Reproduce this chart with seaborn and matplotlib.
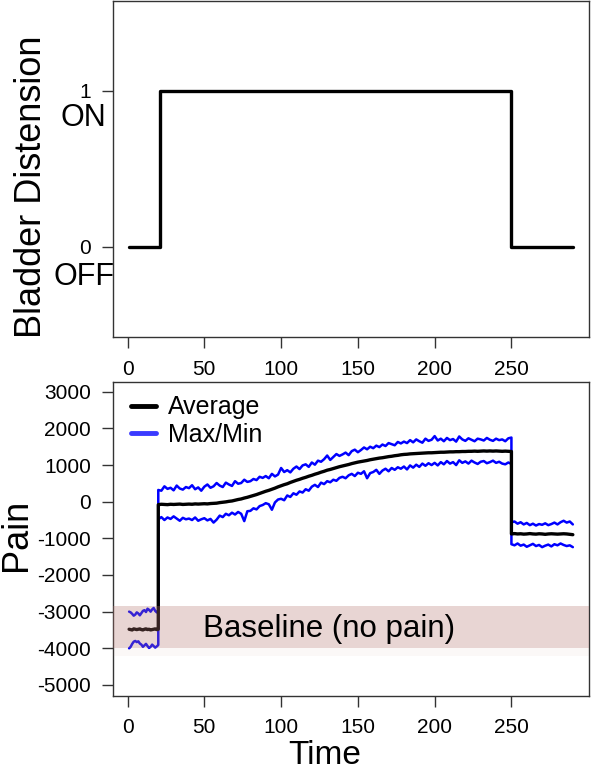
import numpy as np
import seaborn as sns
import matplotlib.pyplot as plt
from matplotlib.lines import Line2D
from matplotlib.transforms import blended_transform_factory

# Bladder distension protocol (0 = OFF, 1 = ON)
dist_time = [1, 21, 21, 250, 250, 290]
dist_state = [0, 0, 1, 1, 0, 0]

# Pain recording, split in three phases: before, during and after distension
t_pre = np.arange(1, 21, 1)
t_on = np.arange(20, 251, 2)
t_post = np.arange(250, 291, 2)

avg_pre = [-3480, -3490, -3500, -3470, -3480, -3490, -3480, -3470, -3490, -3500,
           -3480, -3470, -3490, -3480, -3500, -3490, -3480, -3470, -3490, -3480]
max_pre = [-3000, -3020, -3060, -3110, -3080, -3020, -3050, -3100, -3040, -2980,
           -2960, -3010, -2920, -2950, -3000, -2940, -2900, -2980, -3020, -2960]
min_pre = [-4000, -3960, -3880, -3820, -3800, -3830, -3810, -3870, -3900, -3960,
           -3920, -3880, -3940, -3990, -3960, -3900, -3940, -3980, -3950, -3910]

avg_on = [-80, -70, -75, -80, -70, -75, -70, -65, -75, -70,
          -65, -70, -60, -65, -60, -55, -60, -50, -45, -40,
          -25, -15, -5, 10, 20, 40, 60, 75, 100, 120,
          145, 170, 195, 225, 255, 285, 310, 340, 370, 405,
          435, 465, 490, 525, 555, 585, 610, 640, 665, 695,
          720, 750, 775, 805, 830, 860, 880, 905, 930, 955,
          975, 995, 1015, 1040, 1060, 1080, 1095, 1110, 1125, 1145,
          1160, 1175, 1190, 1200, 1215, 1230, 1240, 1255, 1265, 1280,
          1290, 1295, 1305, 1310, 1315, 1320, 1325, 1330, 1335, 1335,
          1340, 1345, 1350, 1350, 1355, 1360, 1360, 1365, 1365, 1370,
          1370, 1375, 1375, 1380, 1375, 1380, 1385, 1380, 1385, 1380,
          1385, 1380, 1375, 1380, 1375, 1370]
max_on = [320, 300, 420, 350, 380, 310, 440, 360, 330, 400,
          370, 450, 340, 390, 300, 410, 470, 380, 420, 510,
          440, 400, 520, 470, 430, 560, 490, 510, 600, 540,
          560, 620, 590, 680, 650, 700, 640, 760, 690, 740,
          920, 810, 860, 800, 900, 960, 890, 990, 1020, 950,
          1070, 1010, 1120, 1090, 1160, 1260, 1140, 1220, 1300, 1250,
          1290, 1340, 1270, 1380, 1420, 1350, 1410, 1480, 1430, 1500,
          1460, 1530, 1490, 1560, 1520, 1600, 1570, 1540, 1630, 1590,
          1640, 1600, 1680, 1620, 1700, 1650, 1610, 1720, 1660, 1690,
          1790, 1670, 1720, 1650, 1740, 1680, 1710, 1640, 1780, 1700,
          1660, 1730, 1690, 1650, 1720, 1700, 1670, 1740, 1690, 1660,
          1720, 1680, 1700, 1650, 1730, 1750]
min_on = [-480, -420, -500, -430, -470, -400, -460, -520, -440, -480,
          -460, -500, -430, -520, -480, -450, -510, -470, -570, -490,
          -380, -420, -330, -370, -300, -350, -280, -330, -530, -260,
          -250, -180, -210, -120, -90, -40, -70, -220, -20, 60,
          80, 40, 170, 130, 230, 190, 280, 250, 340, 300,
          410, 460, 400, 520, 480, 560, 530, 600, 570, 650,
          680, 640, 720, 760, 700, 790, 760, 830, 640, 780,
          810, 870, 760, 850, 900, 830, 920, 870, 940, 900,
          960, 880, 990, 930, 1010, 950, 1040, 980, 1050, 1000,
          1060, 990, 1080, 1020, 1110, 1040, 1080, 1000, 1130, 1060,
          1100, 1040, 1120, 1070, 1030, 1090, 1110, 1050, 1080, 1120,
          1060, 1090, 1040, 1020, 1070, 1030]

avg_post = [-880, -870, -880, -875, -885, -880, -870, -880, -885, -875,
            -880, -890, -880, -875, -880, -885, -880, -875, -880, -890, -900]
max_post = [-560, -540, -600, -560, -620, -580, -640, -600, -650, -610,
            -630, -590, -640, -610, -570, -620, -560, -520, -570, -540, -620]
min_post = [-1160, -1190, -1140, -1200, -1170, -1230, -1190, -1150, -1210, -1180,
            -1240, -1200, -1170, -1220, -1160, -1190, -1140, -1180, -1210, -1190, -1240]

time_ticks = [0, 50, 100, 150, 200, 250]
pain_ticks = [3000, 2000, 1000, 0, -1000, -2000, -3000, -4000, -5000]
baseline_band = (-3995, -2845)

time = np.concatenate([t_pre, t_on, t_post])
pain_avg = np.concatenate([avg_pre, avg_on, avg_post])
pain_max = np.concatenate([max_pre, max_on, max_post])
pain_min = np.concatenate([min_pre, min_on, min_post])

sns.set_theme(style='ticks')
plt.rcParams['font.family'] = ['Liberation Sans', 'DejaVu Sans']
plt.rcParams['text.color'] = 'black'

fig = plt.figure(figsize=(6, 7.71), dpi=100)
ax1 = fig.add_axes([0.1883, 0.5625, 0.7933, 0.4366])
ax2 = fig.add_axes([0.1883, 0.0977, 0.7933, 0.4072])

for ax in (ax1, ax2):
    for sp in ax.spines.values():
        sp.set_color('#333333')
        sp.set_linewidth(1.0)
    ax.tick_params(direction='out', length=8, width=1, color='#333333',
                   labelsize=15, pad=8, labelcolor='black')
    ax.set_xlim(-9.5, 300.5)
    ax.set_xticks(time_ticks)
    ax.set_xticklabels([str(t) for t in time_ticks])
    ax.set_xlabel('')
    ax.set_ylabel('')

# top panel: distension step
sns.lineplot(x=dist_time, y=dist_state, estimator=None, sort=False,
             color='black', lw=2.4, ax=ax1)
ax1.set_ylim(-0.578, 1.576)
ax1.set_yticks([0, 1])
ax1.set_yticklabels(['0', '1'])
tr = blended_transform_factory(ax1.transAxes, ax1.transData)
ax1.text(-0.063, 0.825, 'ON', transform=tr, ha='center', va='center', fontsize=22)
ax1.text(-0.061, -0.19, 'OFF', transform=tr, ha='center', va='center', fontsize=22)

# bottom panel: pain
sns.lineplot(x=time, y=pain_max, estimator=None, sort=False, color='#0000ff', lw=1.8, ax=ax2, zorder=2)
sns.lineplot(x=time, y=pain_min, estimator=None, sort=False, color='#0000ff', lw=1.8, ax=ax2, zorder=2)
sns.lineplot(x=time, y=pain_avg, estimator=None, sort=False, color='black', lw=2.4, ax=ax2, zorder=3)
ax2.axhspan(*baseline_band, color=(182/255, 118/255, 112/255), alpha=0.3, lw=0, zorder=4)
ax2.axhspan(-4200, baseline_band[0], color=(182/255, 118/255, 112/255), alpha=0.05, lw=0, zorder=4)
ax2.text(131.4, -3692, 'Baseline (no pain)', ha='center', va='baseline', fontsize=22.5, zorder=5)
ax2.set_ylim(-5293, 3274)
ax2.set_yticks(pain_ticks)
ax2.set_yticklabels([str(v) for v in pain_ticks])

handles = [Line2D([], [], color='black', lw=3.5, label='Average'),
           Line2D([], [], color='#3a3aff', lw=3.5, label='Max/Min')]
ax2.legend(handles=handles, loc='upper left', frameon=False, fontsize=18,
           handlelength=1.0, handletextpad=0.45, labelspacing=0.15,
           borderaxespad=0.3, borderpad=0.25, bbox_to_anchor=(0.01, 1.0))

fig.text(32/600, 1-187/771, 'Bladder Distension', rotation=90, ha='center', va='center', fontsize=26)
fig.text(17/600, 1-535/771, 'Pain', rotation=90, ha='center', va='center', fontsize=26)
fig.text(325/600, 1-755/771, 'Time', ha='center', va='center', fontsize=24)

fig.savefig('out.png', dpi=100)
